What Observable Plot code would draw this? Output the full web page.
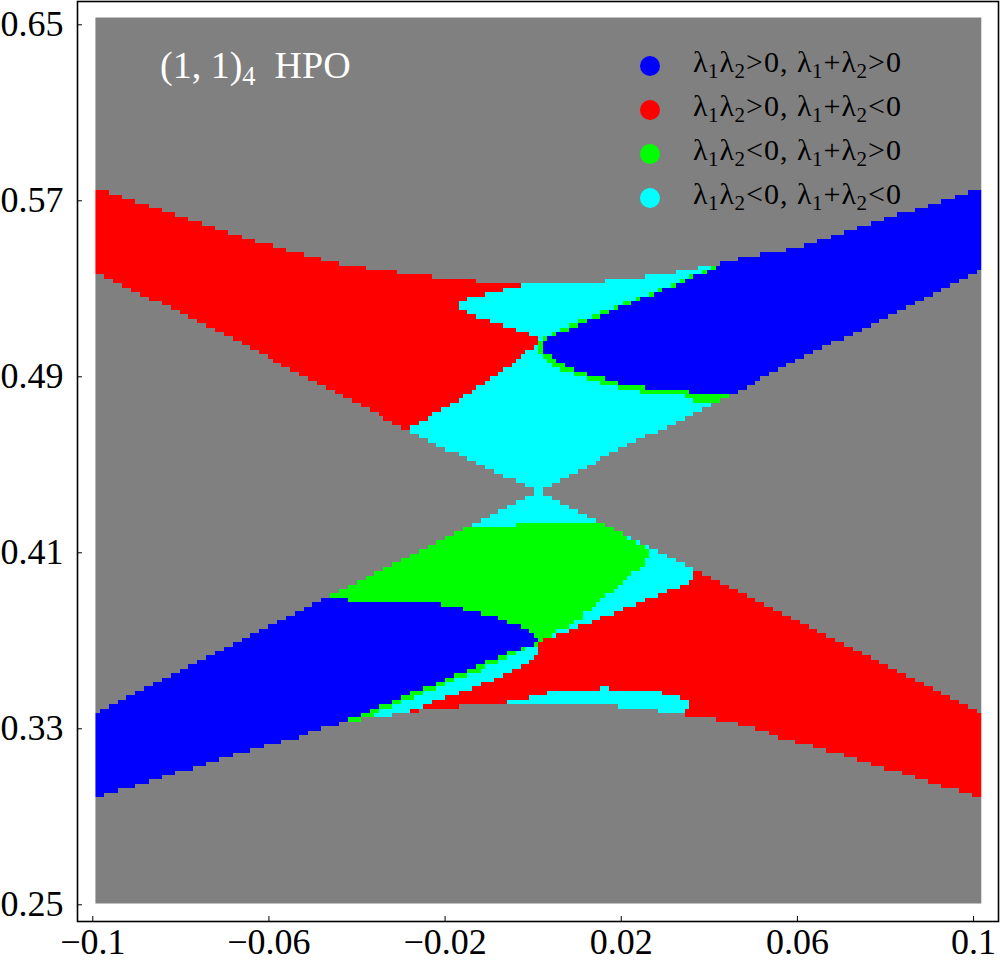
<!DOCTYPE html>
<html><head><meta charset="utf-8">
<script src="https://cdn.jsdelivr.net/npm/d3@7"></script>
<script src="https://cdn.jsdelivr.net/npm/@observablehq/plot@0.6"></script>
<style>
body{margin:0;background:#fff;}
#wrap{position:relative;width:1000px;height:970px;font-family:"Liberation Serif","Times New Roman",serif;}
#wrap svg{position:absolute;left:0;top:0;}
.ov{position:absolute;white-space:nowrap;line-height:1;}
.ov sub{font-size:0.7em;vertical-align:-0.28em;line-height:0;}
.dot{position:absolute;width:20px;height:20px;border-radius:50%;}
</style></head>
<body><div id="wrap"></div>
<script>
// ---- axis ticks ----
const xTicks = [-0.1, -0.06, -0.02, 0.02, 0.06, 0.1];
const xTickLabels = ["\u22120.1", "\u22120.06", "\u22120.02", "0.02", "0.06", "0.1"];
const yTicks = [0.25, 0.33, 0.41, 0.49, 0.57, 0.65];
const yTickLabels = ["0.25", "0.33", "0.41", "0.49", "0.57", "0.65"];

// ---- categories ----
const categories = ["none", "pp", "pn", "np", "nn"];
const categoryColors = ["#808080", "#0000ff", "#ff0000", "#00ff00", "#00ffff"];
const productSigns = [">", ">", "<", "<"];
const sumSigns = [">", "<", ">", "<"];
const legendCats = ["pp", "pn", "np", "nn"];
const title = "(1, 1)";
const titleSub = "4";
const titleTail = "HPO";

// ---- sampled parameter window (grid of 200 x 200 cells) ----
const gridX = [-0.0994, 0.10175];
const gridY = [0.25059, 0.65332];
const gridN = [200, 200];

// ---- region outlines, [x, y] ----
const upperX = [[-0.10052,0.57650],[-0.09939,0.57560],[-0.08577,0.56696],[-0.07442,0.55923],[-0.06420,0.55241],[-0.05512,0.54696],[-0.04604,0.54241],[-0.03696,0.53923],[-0.02788,0.53650],[-0.01880,0.53469],[-0.00972,0.53287],[0.01299,0.53287],[0.02207,0.53469],[0.03115,0.53696],[0.04023,0.54060],[0.04931,0.54469],[0.05839,0.54787],[0.06974,0.55514],[0.08109,0.56241],[0.09244,0.56969],[0.10266,0.57650],
  [0.10266,0.53923],[0.05952,0.49696],[0.03773,0.47469],[0.01957,0.45696],[0.00118,0.43787],[-0.01948,0.45696],[-0.02742,0.46469],[-0.07328,0.51241],[-0.09939,0.53741],[-0.10052,0.53832]];

const lowerX = [[-0.10052,0.33560],[-0.09939,0.33696],[0.00118,0.43741],[0.10175,0.33696],[0.10266,0.33560],
  [0.10266,0.29787],[0.10175,0.29878],[0.09017,0.30560],[0.07859,0.31287],[0.06747,0.31969],[0.05521,0.32650],[0.04976,0.33060],[0.04477,0.33287],[0.03955,0.33469],[0.03364,0.33650],[0.02661,0.33878],[0.01753,0.34060],[-0.01539,0.34060],[-0.02447,0.33878],[-0.03128,0.33650],[-0.03741,0.33469],[-0.04241,0.33287],[-0.04740,0.33060],[-0.05285,0.32650],[-0.06511,0.31969],[-0.07623,0.31287],[-0.08781,0.30560],[-0.09939,0.29878],[-0.10052,0.29787]];

const redUpper = [[-0.10279,0.59287],[-0.00245,0.59287],[-0.00245,0.53196],[-0.00631,0.52969],[-0.01040,0.52787],[-0.01448,0.52560],[-0.01743,0.52378],[-0.01743,0.52150],[-0.01335,0.51787],[-0.00745,0.51378],[-0.00132,0.50969],[0.00073,0.50741],[0.00095,0.50378],[-0.00132,0.50150],[-0.00336,0.49787],[-0.00631,0.49378],[-0.00949,0.48969],[-0.01244,0.48560],[-0.01539,0.48196],[-0.01834,0.47787],[-0.02243,0.47378],[-0.02538,0.46969],[-0.02947,0.46560],[-0.03128,0.46287],[-0.10279,0.46287]];

const blueUpper = [[0.10606,0.59287],[0.04272,0.59287],[0.04272,0.54014],[0.03955,0.53787],[0.03773,0.53605],[0.03455,0.53423],[0.03274,0.53196],[0.03069,0.53014],[0.02751,0.52787],[0.02570,0.52605],[0.02252,0.52423],[0.02070,0.52196],[0.01753,0.52014],[0.01571,0.51787],[0.01253,0.51605],[0.01072,0.51423],[0.00867,0.51196],[0.00663,0.51014],[0.00368,0.50787],[0.00254,0.50605],[0.00163,0.50378],[0.00254,0.50150],[0.00368,0.49969],[0.00459,0.49787],[0.00663,0.49560],[0.00867,0.49378],[0.01072,0.49196],[0.01457,0.49014],[0.01753,0.48787],[0.02252,0.48605],[0.02865,0.48378],[0.03796,0.48287],[0.10606,0.48287]];

const greenUpper = [[0.04159,0.59287],[0.04159,0.54014],[0.03864,0.53787],[0.03659,0.53605],[0.03364,0.53423],[0.03160,0.53196],[0.02865,0.53014],[0.02661,0.52787],[0.02366,0.52605],[0.02161,0.52423],[0.01866,0.52196],[0.01662,0.52014],[0.01367,0.51787],[0.01162,0.51605],[0.00867,0.51423],[0.00663,0.51196],[0.00459,0.51014],[0.00254,0.50787],[0.00163,0.50605],[0.00073,0.50378],[0.00073,0.50150],[0.00163,0.49969],[0.00254,0.49787],[0.00368,0.49560],[0.00572,0.49378],[0.00867,0.49196],[0.01072,0.49014],[0.01457,0.48787],[0.01753,0.48605],[0.02252,0.48378],[0.02751,0.48196],[0.03569,0.48105],[0.03659,0.47878],[0.04363,0.47787],[0.10606,0.47787],[0.10606,0.59287]];

const redLower = [[0.03659,0.40650],[0.03659,0.39787],[0.03455,0.39605],[0.03251,0.39378],[0.02956,0.39196],[0.02751,0.38969],[0.02456,0.38787],[0.02252,0.38605],[0.01957,0.38378],[0.01753,0.38196],[0.01457,0.37969],[0.01253,0.37787],[0.00958,0.37605],[0.00754,0.37378],[0.00459,0.37196],[0.00163,0.36969],[0.00163,0.36741],[0.00073,0.36560],[0.00073,0.36378],[-0.00041,0.36196],[-0.00132,0.35969],[-0.00336,0.35787],[-0.00540,0.35560],[-0.00745,0.35378],[-0.00949,0.35196],[-0.01244,0.34969],[-0.01448,0.34787],[-0.01743,0.34560],[-0.02039,0.34378],[-0.02334,0.34196],[-0.02538,0.33969],[-0.02833,0.33787],[-0.03015,0.33560],[-0.03015,0.25196],[0.10606,0.25196],[0.10606,0.40650]];

const cyanBump = [[-0.00540,0.34241],[-0.00132,0.34423],[0.00368,0.34650],[0.01526,0.34650],[0.01571,0.34923],[0.01753,0.34923],[0.01798,0.34650],[0.02865,0.34650],[0.03274,0.34469],[0.03569,0.34287],[0.03569,0.33969],[0.03455,0.33787],[0.03455,0.33560],[-0.00540,0.31560]];

const greenLower = [[-0.05285,0.42105],[-0.00427,0.42105],[-0.00427,0.42287],[0.01662,0.42287],[0.01753,0.42196],[0.01866,0.42014],[0.02048,0.41787],[0.02252,0.41605],[0.02456,0.41378],[0.02661,0.41196],[0.02683,0.40969],[0.02570,0.40787],[0.02570,0.40560],[0.02456,0.40378],[0.02366,0.40196],[0.02161,0.39969],[0.02070,0.39787],[0.01957,0.39560],[0.01866,0.39378],[0.01753,0.39196],[0.01571,0.38969],[0.01480,0.38787],[0.01367,0.38605],[0.01253,0.38378],[0.01140,0.38196],[0.01049,0.37969],[0.00935,0.37787],[0.00754,0.37605],[0.00459,0.37378],[0.00368,0.37196],[0.00163,0.36969],[0.00005,0.37014],[-0.01653,0.37923],[-0.04831,0.38605],[-0.05285,0.38605]];

const greenEdge = [[-0.05285,0.37196],[0.00163,0.37196],[0.00186,0.36923],[-0.00200,0.36605],[-0.00381,0.36423],[-0.00586,0.36196],[-0.00904,0.35969],[-0.01085,0.35787],[-0.01289,0.35560],[-0.01585,0.35378],[-0.01789,0.35196],[-0.02084,0.34969],[-0.02288,0.34787],[-0.02583,0.34560],[-0.02788,0.34378],[-0.02992,0.34196],[-0.03287,0.33969],[-0.03491,0.33787],[-0.03696,0.33560],[-0.03991,0.33378],[-0.04195,0.33196],[-0.04377,0.32923],[-0.05285,0.32923]];

const blueLower = [[-0.10279,0.40650],[-0.04831,0.40650],[-0.04831,0.38878],[-0.02652,0.38787],[-0.01948,0.38605],[-0.01426,0.38378],[-0.01040,0.38196],[-0.00745,0.38014],[-0.00495,0.37787],[-0.00245,0.37605],[-0.00086,0.37378],[0.00005,0.37196],[0.00118,0.37014],[-0.00041,0.36787],[-0.00336,0.36560],[-0.00631,0.36378],[-0.00835,0.36196],[-0.01131,0.35969],[-0.01335,0.35787],[-0.01630,0.35560],[-0.01834,0.35378],[-0.02039,0.35150],[-0.02334,0.34969],[-0.02538,0.34787],[-0.02833,0.34560],[-0.03037,0.34378],[-0.03242,0.34196],[-0.03537,0.33969],[-0.03741,0.33787],[-0.03945,0.33560],[-0.04241,0.33378],[-0.04445,0.33196],[-0.04740,0.32969],[-0.05285,0.29741],[-0.10279,0.29741]];

// ---- classify a sample point ----
function classify(x, y) {
  const p = [x, y];
  const inside = poly => d3.polygonContains(poly, p);
  if (inside(upperX)) {
    if (inside(blueUpper)) return "pp";
    if (inside(greenUpper)) return "np";
    if (inside(redUpper)) return "pn";
    return "nn";
  }
  if (inside(lowerX)) {
    if (inside(blueLower)) return "pp";
    if (inside(greenEdge)) return "np";
    if (inside(greenLower)) return "np";
    if (inside(cyanBump)) return "nn";
    if (inside(redLower)) return "pn";
    return "nn";
  }
  return "none";
}

const chart = Plot.plot({
  width: 1000,
  height: 970,
  marginLeft: 77,
  marginRight: 2,
  marginTop: 1,
  marginBottom: 49,
  style: {fontFamily: "'Liberation Serif', 'Times New Roman', serif", background: "#fff"},
  x: {domain: [-0.10347, 0.10566]},
  y: {domain: [0.24241, 0.66060]},
  color: {type: "ordinal", domain: categories, range: categoryColors},
  marks: [
    Plot.raster({
      fill: classify,
      x1: gridX[0], x2: gridX[1], y1: gridY[0], y2: gridY[1],
      width: gridN[0], height: gridN[1],
      imageRendering: "pixelated"
    }),
    Plot.axisX(xTicks, {tickSize: -5, tickPadding: 12, fontSize: 36, tickFormat: (d, i) => xTickLabels[i], label: null, stroke: "black", color: "black"}),
    Plot.axisY(yTicks, {tickSize: -5, tickPadding: 19, fontSize: 36, tickFormat: (d, i) => yTickLabels[i], label: null, stroke: "black", color: "black"}),
    Plot.frame({stroke: "black", strokeWidth: 1.6})
  ]
});

const wrap = document.getElementById("wrap");
wrap.appendChild(chart);

// title overlay
const t = document.createElement("div");
t.className = "ov";
t.style.cssText = "left:160px;top:46px;font-size:38px;color:#fff;";
t.innerHTML = `${title}<sub>${titleSub}</sub>&nbsp; ${titleTail}`;
wrap.appendChild(t);

// legend overlay
const lam = (k) => `<span style="letter-spacing:0.5px">&lambda;</span><sub>${k}</sub>`;
legendCats.forEach((c, i) => {
  const color = categoryColors[categories.indexOf(c)];
  const d = document.createElement("div");
  d.className = "dot";
  d.style.cssText += `left:640px;top:${56 + i * 44}px;background:${color};`;
  wrap.appendChild(d);
  const l = document.createElement("div");
  l.className = "ov";
  l.style.cssText = `left:693px;top:${47 + i * 44}px;font-size:30px;color:#000;letter-spacing:1px;`;
  l.innerHTML = `${lam(1)}${lam(2)}${productSigns[i]}0, ${lam(1)}+${lam(2)}${sumSigns[i]}0`;
  wrap.appendChild(l);
});
</script>
</body></html>
